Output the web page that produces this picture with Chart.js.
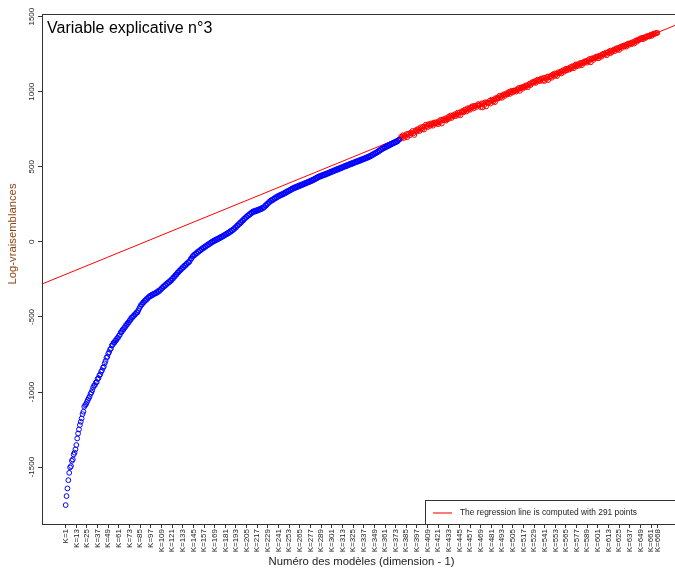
<!DOCTYPE html>
<html>
<head>
<meta charset="utf-8">
<script src="https://cdn.jsdelivr.net/npm/chart.js@4/dist/chart.umd.min.js"></script>
<style>
  html, body { margin: 0; padding: 0; background: #fff; overflow: hidden; }
  #wrap { width: 690px; height: 568px; }
</style>
</head>
<body>
<div id="wrap"><canvas id="myChart" width="690" height="568"></canvas></div>
<script>
// models K=1..377 (blue, not used for the fit)
const blueValues = [
  -1753,-1693,-1642,-1587,-1538,-1502,-1493,-1458,-1449,-1416,
  -1404,-1382,-1353,-1309,-1276,-1249,-1220,-1198,-1176,-1147,
  -1131,-1098,-1087,-1080,-1066,-1052,-1041,-1030,-1012,-1003,
  -988,-969,-957,-953,-936,-934,-912,-907,-889,-883,
  -865,-855,-838,-831,-809,-793,-771,-765,-745,-734,
  -717,-711,-690,-685,-672,-671,-657,-655,-641,-639,
  -625,-620,-602,-601,-586,-585,-571,-569,-553,-553,
  -539,-537,-523,-520,-505,-506,-494,-493,-481,-480,
  -468,-469,-455,-442,-432,-419,-417,-405,-403,-392,
  -391,-380,-381,-369,-368,-359,-361,-352,-355,-346,
  -344,-345,-336,-339,-328,-331,-321,-320,-309,-308,
  -297,-298,-287,-288,-276,-277,-267,-268,-257,-258,
  -245,-245,-232,-231,-219,-218,-205,-204,-192,-191,
  -180,-180,-168,-169,-157,-158,-146,-147,-135,-136,
  -127,-113,-110,-96,-93,-84,-86,-75,-76,-65,
  -66,-56,-57,-47,-48,-38,-40,-30,-32,-22,
  -23,-14,-16,-6,-8,2,0,9,6,15,
  12,21,18,27,25,34,31,40,38,47,
  45,54,52,61,59,69,67,77,75,85,
  85,96,96,108,108,119,119,131,130,142,
  142,154,154,165,165,175,174,185,183,194,
  193,203,199,207,203,211,207,215,212,220,
  217,226,222,231,231,243,242,254,254,265,
  265,275,273,282,280,290,288,298,295,305,
  302,311,308,316,313,322,319,328,325,335,
  332,341,339,348,345,355,352,361,357,366,
  362,371,367,376,372,380,377,385,382,390,
  387,395,392,400,397,405,402,411,407,416,
  413,422,419,429,426,435,432,440,436,445,
  441,449,445,454,450,458,455,463,460,468,
  465,473,470,478,475,483,479,488,484,492,
  489,497,494,502,499,507,503,512,508,516,
  513,521,517,526,522,530,527,535,531,540,
  536,544,540,549,545,553,550,558,555,563,
  559,568,564,573,570,580,577,587,584,593,
  591,600,598,608,606,616,614,623,621,630,
  627,636,633,642,639,648,645,654,651,660,
  657,666,663,672,669,678,681
];

// models K=378..668 (red, the 291 points of the regression)
const redValues = [
  685,700,695,710,691,707,703,718,697,719,
  720,710,728,722,739,723,712,738,745,735,
  751,746,738,763,756,750,768,748,768,781,
  771,764,784,781,773,789,783,774,794,788,
  797,787,797,784,805,798,814,788,810,816,
  810,823,808,824,817,835,826,842,825,839,
  844,837,851,838,849,861,847,862,843,862,
  872,868,864,881,878,869,890,880,890,880,
  898,893,905,889,905,906,898,909,918,910,
  912,897,923,895,923,912,930,902,929,926,
  926,940,921,947,941,934,950,931,958,952,
  961,955,973,963,974,960,977,983,972,982,
  990,982,992,1001,986,997,1007,995,1008,1005,
  1010,1001,1017,1012,1026,1006,1024,1030,1020,1033,
  1036,1029,1043,1040,1030,1047,1054,1044,1054,1063,
  1065,1061,1071,1059,1072,1081,1071,1080,1072,1088,
  1084,1073,1093,1072,1091,1085,1101,1078,1102,1096,
  1105,1093,1114,1106,1122,1107,1120,1105,1129,1124,
  1124,1135,1122,1138,1144,1133,1143,1154,1142,1154,
  1155,1148,1164,1156,1170,1166,1157,1174,1182,1169,
  1183,1179,1174,1192,1189,1177,1195,1190,1203,1200,
  1204,1194,1211,1203,1219,1196,1218,1224,1212,1223,
  1226,1234,1224,1236,1223,1240,1240,1233,1250,1249,
  1253,1247,1261,1243,1261,1266,1257,1274,1259,1272,
  1273,1281,1270,1283,1290,1280,1292,1278,1296,1301,
  1292,1303,1308,1301,1311,1300,1314,1321,1312,1322,
  1323,1317,1330,1329,1321,1337,1342,1333,1345,1343,
  1349,1356,1350,1359,1350,1362,1362,1359,1370,1368,
  1372,1368,1376,1381,1373,1382,1387,1384,1390,1391,
  1392
];

const xTickValues = [1,13,25,37,49,61,73,85,97,109,121,133,145,157,169,181,193,205,
  217,229,241,253,265,277,289,301,313,325,337,349,361,373,385,397,409,421,433,445,
  457,469,481,493,505,517,529,541,553,565,577,589,601,613,625,637,649,661,668];
const yTickValues = [-1500,-1000,-500,0,500,1000,1500];

const chartTitle = "Variable explicative n°3";
const xTitle = "Numéro des modèles (dimension - 1)";
const yTitle = "Log-vraisemblances";
const legendText = "The regression line is computed with " + redValues.length + " points";

const FONT = '"Liberation Sans", Arial, sans-serif';

let bluePts = blueValues.map((v, i) => ({ x: i + 1, y: v }));
let redPts = redValues.map((v, i) => ({ x: blueValues.length + 1 + i, y: v }));

// least squares on the red points
function fitLine(pts) {
  let n = pts.length, sx = 0, sy = 0, sxx = 0, sxy = 0;
  pts.forEach(p => { sx += p.x; sy += p.y; sxx += p.x * p.x; sxy += p.x * p.y; });
  let b = (n * sxy - sx * sy) / (n * sxx - sx * sx);
  let a = (sy - b * sx) / n;
  return { a: a, b: b };
}
const fit = fitLine(redPts);

// R style axis limits (range + 4% each side)
let nAll = blueValues.length + redValues.length;
let allY = blueValues.concat(redValues);
let yLo = Math.min(...allY), yHi = Math.max(...allY);
const xMin = 1 - (nAll - 1) * 0.04, xMax = nAll + (nAll - 1) * 0.04;
const yMin = yLo - (yHi - yLo) * 0.04, yMax = yHi + (yHi - yLo) * 0.04;

let regLine = [
  { x: xMin, y: fit.a + fit.b * xMin },
  { x: xMax, y: fit.a + fit.b * xMax }
];

const extras = {
  id: 'extras',
  afterDraw(chart) {
    const ctx = chart.ctx, a = chart.chartArea, ys = chart.scales.y;
    ctx.save();
    // box
    ctx.strokeStyle = '#333';
    ctx.lineWidth = 1;
    ctx.strokeRect(Math.round(a.left) + 0.5, Math.round(a.top) + 0.5,
      Math.round(a.right - a.left), Math.round(a.bottom - a.top));

    // y tick labels, rotated like R
    ctx.fillStyle = '#222';
    ctx.font = '8px ' + FONT;
    ctx.textAlign = 'center';
    ctx.textBaseline = 'bottom';
    yTickValues.forEach(v => {
      let py = ys.getPixelForValue(v);
      ctx.save();
      ctx.translate(a.left - 6, py);
      ctx.rotate(-Math.PI / 2);
      ctx.fillText(String(v), 0, 0);
      ctx.restore();
    });

    // axis titles
    ctx.font = '11.3px ' + FONT;
    ctx.fillStyle = '#8b4513';
    ctx.save();
    ctx.translate(19, 234);
    ctx.rotate(-Math.PI / 2);
    ctx.textBaseline = 'bottom';
    ctx.fillText(yTitle, 0, 0);
    ctx.restore();
    ctx.fillStyle = '#222';
    ctx.textBaseline = 'middle';
    ctx.fillText(xTitle, (a.left + a.right) / 2, 562);

    // title in the plot
    ctx.fillStyle = '#000';
    ctx.font = '16px ' + FONT;
    ctx.textAlign = 'left';
    ctx.textBaseline = 'alphabetic';
    ctx.fillText(chartTitle, 47, 33);

    // legend bottom right
    let lx = 425, ly = 500;
    ctx.fillStyle = '#fff';
    ctx.fillRect(lx, ly, a.right - lx, a.bottom - ly);
    ctx.strokeStyle = '#333';
    ctx.strokeRect(lx + 0.5, ly + 0.5, Math.round(a.right - lx), Math.round(a.bottom - ly));
    ctx.strokeStyle = '#ff3030';
    ctx.lineWidth = 1.3;
    ctx.beginPath();
    ctx.moveTo(433, 513);
    ctx.lineTo(452, 513);
    ctx.stroke();
    ctx.fillStyle = '#222';
    ctx.font = '8.4px ' + FONT;
    ctx.textBaseline = 'middle';
    ctx.fillText(legendText, 460, 513);
    ctx.restore();
  }
};

new Chart(document.getElementById('myChart'), {
  type: 'scatter',
  data: {
    datasets: [
      {
        label: 'blue',
        data: bluePts,
        pointStyle: 'circle',
        pointRadius: 2.4,
        pointHoverRadius: 2.4,
        pointBorderWidth: 1,
        pointBorderColor: '#0000ff',
        pointBackgroundColor: 'rgba(0,0,0,0)'
      },
      {
        label: 'red',
        data: redPts,
        pointStyle: 'circle',
        pointRadius: 2.4,
        pointHoverRadius: 2.4,
        pointBorderWidth: 1,
        pointBorderColor: '#ff0000',
        pointBackgroundColor: 'rgba(0,0,0,0)'
      },
      {
        label: legendText,
        data: regLine,
        showLine: true,
        borderColor: '#ff0000',
        borderWidth: 1,
        pointRadius: 0,
        fill: false
      }
    ]
  },
  options: {
    responsive: false,
    animation: false,
    devicePixelRatio: 1,
    layout: { padding: { top: 14, right: 9, left: 0, bottom: 0 } },
    plugins: { legend: { display: false }, tooltip: { enabled: false } },
    scales: {
      x: {
        type: 'linear',
        min: xMin,
        max: xMax,
        afterBuildTicks: s => { s.ticks = xTickValues.map(v => ({ value: v })); },
        afterFit: s => { s.height = 44; },
        ticks: {
          autoSkip: false,
          minRotation: 90,
          maxRotation: 90,
          padding: 1,
          color: '#222',
          font: { family: FONT, size: 8 },
          callback: v => 'K=' + v
        },
        grid: { drawOnChartArea: false, tickLength: 4, color: '#333' },
        border: { display: false }
      },
      y: {
        min: yMin,
        max: yMax,
        afterBuildTicks: s => { s.ticks = yTickValues.map(v => ({ value: v })); },
        afterFit: s => { s.width = 42; },
        ticks: { display: false },
        grid: { drawOnChartArea: false, tickLength: 4, color: '#333' },
        border: { display: false }
      }
    }
  },
  plugins: [extras]
});
</script>
</body>
</html>
